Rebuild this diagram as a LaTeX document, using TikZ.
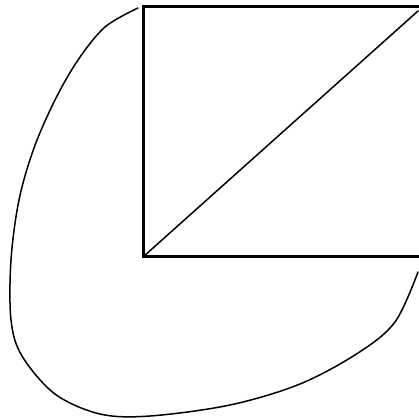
\documentclass[tikz,border=0pt]{standalone}
\begin{document}
\begin{tikzpicture}[x=1pt,y=-1pt,
  edge/.style={line width=2.6pt,line cap=rect},
  thin/.style={line width=1.5pt,line cap=round,line join=round}]
\useasboundingbox (0,0) rectangle (418,420);
\coordinate (A) at (143.5,6.5);
\coordinate (B) at (418,6.5);
\coordinate (C) at (143.5,256.5);
\coordinate (D) at (418,256.5);
\draw[edge] (B) -- (A) -- (C) -- (D);
\draw[thin] (C) -- (418,11);
\draw[thin] plot[smooth,tension=0.55] coordinates {(138,8) (105,27) (78,60) (55,100) (34,148) (19,200) (11,260) (11,320) (22,356) (55,394) (100,414) (150,416) (230,405) (300,384) (358,353) (395,322) (418,272)};
\end{tikzpicture}
\end{document}
